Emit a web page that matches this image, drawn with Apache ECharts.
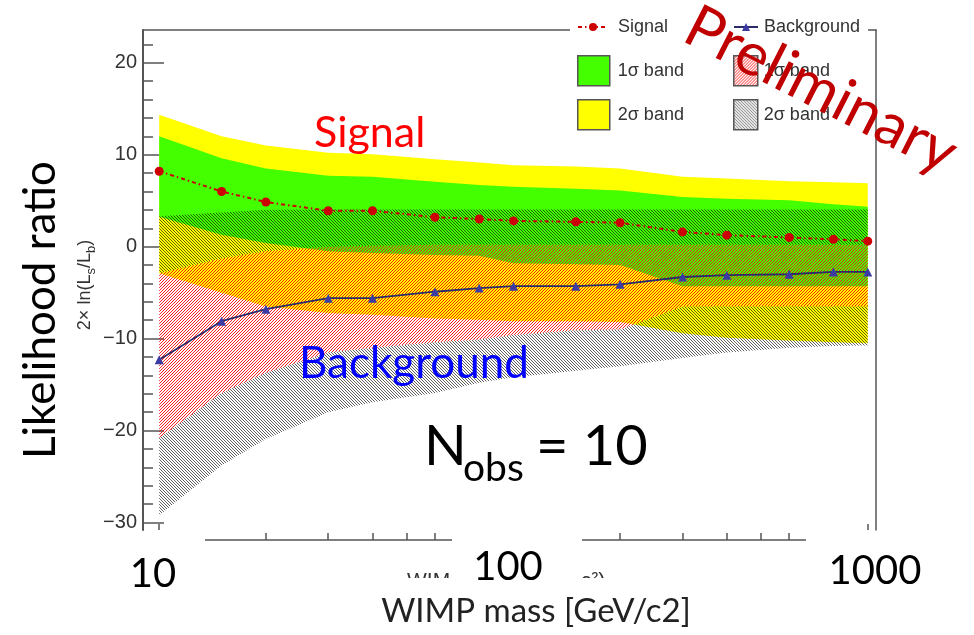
<!DOCTYPE html>
<html><head><meta charset="utf-8">
<script src="https://cdn.jsdelivr.net/npm/echarts@6/dist/echarts.min.js"></script>
<style>html,body{margin:0;padding:0;background:#fff}#chart{width:974px;height:635px}</style>
</head><body><div id="chart"></div>
<script>
// ---- data ----
const massGeV = [10, 15, 20, 30, 40, 60, 80, 100, 150, 200, 300, 400, 600, 800, 1000];
const signalMedian = [8.2, 6.0, 4.85, 3.9, 3.9, 3.2, 3.0, 2.8, 2.7, 2.6, 1.6, 1.25, 1.0, 0.8, 0.6];
const backgroundMedian = [-12.3, -8.1, -6.8, -5.6, -5.6, -4.9, -4.5, -4.3, -4.3, -4.1, -3.3, -3.1, -3.0, -2.75, -2.75];
const signal2SigmaUpper = [14.35, 12.0, 11.0, 10.2, 10.05, 9.5, 9.15, 8.85, 8.7, 8.5, 7.6, 7.4, 7.1, 7.0, 6.9];
const signal1SigmaUpper = [12.0, 9.6, 8.5, 7.7, 7.6, 7.05, 6.7, 6.5, 6.3, 6.1, 5.4, 5.2, 5.05, 4.6, 4.35];
const signal1SigmaLower = [3.25, 1.3, 0.4, -0.5, -0.7, -0.9, -1.0, -1.8, -1.9, -2.0, -4.3, -4.3, -4.3, -4.3, -4.3];
const signal2SigmaLower = [-2.9, -5.0, -6.5, -7.2, -7.4, -7.8, -7.95, -8.1, -8.1, -8.2, -9.4, -9.9, -10.2, -10.4, -10.5];
const background1SigmaUpper = [-2.9, -1.3, -0.5, 0.0, 0.1, 0.2, 0.2, 0.2, 0.2, 0.2, 0.2, 0.2, 0.2, 0.2, 0.2];
const background1SigmaLower = [-20.8, -15.9, -13.7, -11.5, -11.0, -10.4, -10.1, -9.6, -9.1, -9.0, -6.5, -6.5, -6.5, -6.5, -6.5];
const background2SigmaUpper = [3.3, 3.7, 4.0, 4.05, 4.05, 4.05, 4.05, 4.05, 4.05, 4.05, 4.05, 4.05, 4.05, 4.05, 4.05];
const background2SigmaLower = [-29.2, -23.8, -20.9, -18.0, -16.9, -15.9, -14.8, -14.2, -13.5, -13.0, -12.1, -11.5, -11.0, -10.8, -10.75];

const yMajorTicks = [-30, -20, -10, 0, 10, 20];
const yMinorTicks = [-30, -28, -26, -24, -22, -20, -18, -16, -14, -12, -10, -8, -6, -4, -2, 0, 2, 4, 6, 8, 10, 12, 14, 16, 18, 20, 22];
const xMinorTicks = [20, 30, 40, 50, 60, 70, 80, 90, 200, 300, 400, 500, 600, 700, 800, 900];
const xEdgeTicks = [10, 1000];
const xTickLabels = ['10', '100', '1000'];
const legendLabels = { sig1: '1σ band', sig2: '2σ band', bkg1: '1σ band', bkg2: '2σ band' };

// ---- hatch patterns ----
function makePattern(size, color, pixels) {
  const c = document.createElement('canvas');
  c.width = size; c.height = size;
  const ctx = c.getContext('2d');
  ctx.fillStyle = color;
  pixels.forEach(p => ctx.fillRect(p[0], p[1], 1, 1));
  return c;
}
const blackHatch = { image: makePattern(3, 'rgba(0,0,0,0.62)', [[0, 0], [1, 1], [2, 2]]), repeat: 'repeat' };
const redHatch = { image: makePattern(3, 'rgba(255,0,0,0.88)', [[2, 0], [1, 1], [0, 2]]), repeat: 'repeat' };
const GREEN = '#44ff00', YELLOW = '#ffff00';

// polygon between an upper and lower edge, projected through the axes
function bandPolygon(api, upper, lower) {
  const pts = [];
  for (let i = 0; i < massGeV.length; i++) pts.push(api.coord([massGeV[i], upper[i]]));
  for (let i = massGeV.length - 1; i >= 0; i--) pts.push(api.coord([massGeV[i], lower[i]]));
  return pts;
}
function band(name, edges, fill) {
  return {
    type: 'custom', name: name, z: 2, clip: true,
    itemStyle: { color: fill },
    data: massGeV.map((m, i) => [m, edges[0][1][i], edges[0][0][i]]),
    renderItem: function (params, api) {
      if (params.dataIndex !== 0) return null;
      return { type: 'group', children: edges.map(e => ({
        type: 'polygon', shape: { points: bandPolygon(api, e[0], e[1]) }, style: { fill: fill, stroke: null } })) };
    }
  };
}

const X_MIN = 9.0, X_MAX = 1055, Y_MIN = -30.8, Y_MAX = 23.55;
const AX = '#555';
const rootFont = '"Liberation Sans", Arial, sans-serif';
const slideFont = 'Lato, "Open Sans", sans-serif';

const chart = echarts.init(document.getElementById('chart'));
const legendText = { fontFamily: rootFont, fontSize: 18, color: '#333' };
chart.setOption({
  animation: false,
  backgroundColor: '#fff',
  grid: { left: 143, top: 30, width: 733, height: 500, containLabel: false },
  xAxis: [
    { type: 'log', min: X_MIN, max: X_MAX, position: 'bottom', offset: 10,
      axisLine: { show: true, onZero: false, lineStyle: { color: AX, width: 1.5 } },
      axisTick: { show: true, inside: true, length: 7, customValues: xMinorTicks, lineStyle: { color: AX, width: 1.5 } },
      axisLabel: { show: false }, splitLine: { show: false }, minorTick: { show: false } },
    { type: 'log', min: X_MIN, max: X_MAX, position: 'bottom', offset: 0,
      axisLine: { show: false, onZero: false },
      axisTick: { show: true, inside: true, length: 6, customValues: xEdgeTicks, lineStyle: { color: AX, width: 1.5 } },
      axisLabel: { show: false }, splitLine: { show: false } },
    { type: 'log', min: X_MIN, max: X_MAX, position: 'top',
      axisLine: { show: true, onZero: false, lineStyle: { color: AX, width: 1.5 } },
      axisTick: { show: false }, axisLabel: { show: false }, splitLine: { show: false } }
  ],
  yAxis: [
    { type: 'value', min: Y_MIN, max: Y_MAX, position: 'left',
      axisLine: { show: true, onZero: false, lineStyle: { color: AX, width: 2 } },
      axisTick: { show: true, inside: true, length: 21, customValues: yMajorTicks, lineStyle: { color: AX, width: 1.5 } },
      axisLabel: { show: true, customValues: yMajorTicks, margin: 6, color: '#333', fontSize: 20, fontFamily: rootFont,
        formatter: v => (v < 0 ? '\u2212' + Math.abs(v) : String(v)) },
      splitLine: { show: false } },
    { type: 'value', min: Y_MIN, max: Y_MAX, position: 'left', offset: 0,
      axisLine: { show: false, onZero: false },
      axisTick: { show: true, inside: true, length: 10, customValues: yMinorTicks, lineStyle: { color: AX, width: 1.5 } },
      axisLabel: { show: false }, splitLine: { show: false } },
    { type: 'value', min: Y_MIN, max: Y_MAX, position: 'right',
      axisLine: { show: true, onZero: false, lineStyle: { color: AX, width: 1.5 } },
      axisTick: { show: false }, axisLabel: { show: false }, splitLine: { show: false } }
  ],
  legend: [
    { left: 570, top: 13, padding: [5, 10, 5, 7], backgroundColor: '#fff', itemWidth: 30, itemHeight: 10,
      selectedMode: false, data: ['Signal'], textStyle: Object.assign({ padding: [0, 0, 0, 5] }, legendText) },
    { left: 675, top: 13, padding: [5, 8, 5, 58], backgroundColor: '#fff', itemWidth: 24, itemHeight: 10,
      selectedMode: false, data: ['Background'], textStyle: Object.assign({ padding: [0, 0, 0, 1] }, legendText) },
    { left: 577, top: 55, padding: 0, orient: 'vertical', itemWidth: 32, itemHeight: 30, itemGap: 12.5,
      selectedMode: false, formatter: n => legendLabels[n], textStyle: Object.assign({ padding: [0, 0, 0, 3] }, legendText),
      data: [
        { name: 'sig1', icon: 'rect', itemStyle: { color: GREEN, borderColor: AX, borderWidth: 1.5 } },
        { name: 'sig2', icon: 'rect', itemStyle: { color: YELLOW, borderColor: AX, borderWidth: 1.5 } }
      ] },
    { left: 733, top: 55, padding: 0, orient: 'vertical', itemWidth: 24, itemHeight: 30, itemGap: 12.5,
      selectedMode: false, formatter: n => legendLabels[n], textStyle: Object.assign({ padding: [0, 0, 0, 1] }, legendText),
      data: [
        { name: 'bkg1', icon: 'rect', itemStyle: { color: redHatch, borderColor: AX, borderWidth: 1.5 } },
        { name: 'bkg2', icon: 'rect', itemStyle: { color: blackHatch, borderColor: AX, borderWidth: 1.5 } }
      ] }
  ],
  series: [
    band('sig2', [[signal2SigmaUpper, signal2SigmaLower]], YELLOW),
    band('sig1', [[signal1SigmaUpper, signal1SigmaLower]], GREEN),
    // 2σ background hatch is visible outside the 1σ background band
    band('bkg2', [[background2SigmaUpper, background1SigmaUpper], [background1SigmaLower, background2SigmaLower]], blackHatch),
    band('bkg1', [[background1SigmaUpper, background1SigmaLower]], redHatch),
    { type: 'line', name: 'Signal', z: 5, data: massGeV.map((m, i) => [m, signalMedian[i]]),
      symbol: 'circle', symbolSize: 9, itemStyle: { color: '#cc0000' },
      lineStyle: { color: '#cc0000', width: 2, type: [4, 3, 1.5, 3] } },
    { type: 'line', name: 'Background', z: 5, data: massGeV.map((m, i) => [m, backgroundMedian[i]]),
      symbol: 'triangle', symbolSize: 9, itemStyle: { color: '#3b3ba3' },
      lineStyle: { color: '#2b2b6b', width: 1.8 } }
  ],
  graphic: { elements: [
    { type: 'text', x: 407, y: 581, z: 40, style: { text: 'WIMP mass (GeV/c²)', font: '21px ' + rootFont, fill: '#333', textAlign: 'left', textVerticalAlign: 'middle' } },
    { type: 'text', x: 87, y: 285, rotation: Math.PI / 2, z: 40, style: {
        text: '{m|2× ln(L}{s|s}{m|/L}{s|b}{m|)}', textAlign: 'center', textVerticalAlign: 'middle',
        rich: { m: { fontSize: 18, fontFamily: rootFont, fill: '#333', lineHeight: 20, verticalAlign: 'top' },
                s: { fontSize: 13, fontFamily: rootFont, fill: '#333', lineHeight: 21, verticalAlign: 'bottom' } } } },
    { type: 'rect', z: 41, shape: { x: 100, y: 532, width: 105, height: 70 }, style: { fill: '#fff' } },
    { type: 'rect', z: 41, shape: { x: 452, y: 532, width: 130, height: 53 }, style: { fill: '#fff' } },
    { type: 'rect', z: 41, shape: { x: 806, y: 532, width: 134, height: 70 }, style: { fill: '#fff' } },
    { type: 'rect', z: 41, shape: { x: 370, y: 578, width: 330, height: 57 }, style: { fill: '#fff' } },
    { type: 'text', x: 153, y: 574, z: 42, style: { text: xTickLabels[0], font: '40px ' + slideFont, fill: '#000', textAlign: 'center', textVerticalAlign: 'middle' } },
    { type: 'text', x: 508, y: 567, z: 42, style: { text: xTickLabels[1], font: '40px ' + slideFont, fill: '#000', textAlign: 'center', textVerticalAlign: 'middle' } },
    { type: 'text', x: 875, y: 571, z: 42, style: { text: xTickLabels[2], font: '40px ' + slideFont, fill: '#000', textAlign: 'center', textVerticalAlign: 'middle' } },
    { type: 'text', x: 536, y: 611, z: 42, style: { text: 'WIMP mass [GeV/c2]', font: '33px ' + slideFont, fill: '#222', textAlign: 'center', textVerticalAlign: 'middle' } },
    { type: 'text', x: 41, y: 310, rotation: Math.PI / 2, z: 42, style: { text: 'Likelihood ratio', font: '44px ' + slideFont, fill: '#000', textAlign: 'center', textVerticalAlign: 'middle' } },
    { type: 'text', x: 314, y: 133, z: 42, style: { text: 'Signal', font: '43px ' + slideFont, fill: '#ff0000', textAlign: 'left', textVerticalAlign: 'middle' } },
    { type: 'text', x: 299, y: 364, z: 42, style: { text: 'Background', font: '44px ' + slideFont, fill: '#0000ff', textAlign: 'left', textVerticalAlign: 'middle' } },
    { type: 'text', x: 424, y: 447, z: 42, style: { text: 'N', font: '56px ' + slideFont, fill: '#000', textAlign: 'left', textVerticalAlign: 'middle' } },
    { type: 'text', x: 463, y: 468, z: 42, style: { text: 'obs', font: '39px ' + slideFont, fill: '#000', textAlign: 'left', textVerticalAlign: 'middle' } },
    { type: 'text', x: 536, y: 447, z: 42, style: { text: '= 10', font: '56px ' + slideFont, fill: '#000', textAlign: 'left', textVerticalAlign: 'middle' } },
    { type: 'text', x: 821, y: 90, rotation: -27 * Math.PI / 180, z: 60, style: { text: 'Preliminary', font: '60px ' + slideFont, fill: '#c00000', textAlign: 'center', textVerticalAlign: 'middle' } }
  ] }
});
</script></body></html>
